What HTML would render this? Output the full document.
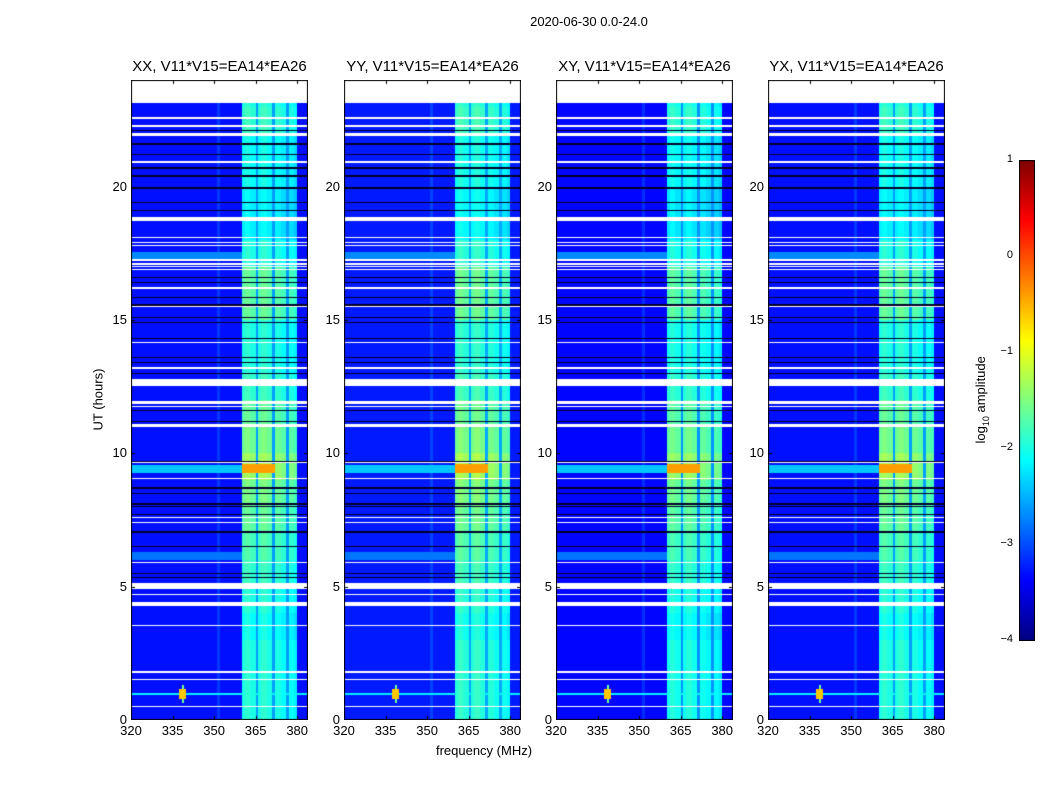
<!DOCTYPE html>
<html><head><meta charset="utf-8">
<style>
body{margin:0;background:#fff;font-family:"Liberation Sans",sans-serif;}
#wrap{position:relative;width:1050px;height:800px;overflow:hidden;background:#fff;}
.t{position:absolute;white-space:nowrap;color:#000;}
canvas{position:absolute;}
</style></head><body>
<div id="wrap">
<div class="t" style="left:489px;top:14px;width:200px;text-align:center;font-size:13px;">2020-06-30 0.0-24.0</div>
<div class="t" style="left:48px;top:392px;width:100px;text-align:center;font-size:13px;transform:rotate(-90deg);">UT (hours)</div>
<div class="t" style="left:384px;top:743px;width:200px;text-align:center;font-size:13px;">frequency (MHz)</div>
<div class="t" style="left:922px;top:391px;width:120px;text-align:center;font-size:13px;transform:rotate(-90deg);">log<sub style="font-size:9px">10</sub> amplitude</div>
<canvas id="cb" width="16" height="481" style="left:1019px;top:160px;"></canvas>
</div>
<script>
// ---- data ----
const panelTitles=["XX, V11*V15=EA14*EA26","YY, V11*V15=EA14*EA26","XY, V11*V15=EA14*EA26","YX, V11*V15=EA14*EA26"];
const panelLefts=[131,344,556,768];
const panelOffsets=[0,0.05,-0.05,0];
const xTicks=[320,335,350,365,380];
const yTicks=[0,5,10,15,20];
const cbTicks=[1,0,-1,-2,-3,-4];
// log10 amplitude per 1-MHz bin 320..383
const colBase=[-3.3,-3.3,-3.3,-3.3,-3.3,-3.3,-3.3,-3.3,-3.3,-3.3,-3.3,-3.3,-3.3,-3.3,-3.3,-3.3,-3.3,-3.3,-3.3,-3.3,
-3.3,-3.3,-3.3,-3.3,-3.3,-3.3,-3.3,-3.3,-3.3,-3.3,-3.3,-3.1,-3.3,-3.3,-3.3,-3.3,-3.3,-3.3,-3.3,-3.3,
-2.0,-1.9,-1.9,-2.0,-2.0,-2.6,-2.0,-1.9,-1.9,-2.0,-2.0,-2.6,-2.0,-2.0,-2.1,-2.1,-2.6,-2.1,-2.1,-2.2,-3.3,-3.3,-3.3,-3.3];
const bandStart=360, bandEnd=380;
// band gain per UT hour 0..23
const bandGain=[0,0,0,-0.1,0,0.1,0.2,0.3,0.4,0.6,0.4,0.3,0.1,0,0,0.3,0.3,0,-0.2,-0.2,-0.1,-0.1,0.1,0];
const dataTop=23.15;
const whiteRows=[[22.52,22.6],[22.22,22.3],[21.9,22.02],[20.88,20.95],[18.72,18.88],[18.07,18.13],[17.88,17.92],[17.76,17.8],[17.22,17.28],[17.08,17.12],[16.98,17.02],[16.88,16.92],[16.18,16.22],[15.48,15.52],[14.15,14.19],[13.18,13.22],[12.52,12.8],[11.85,11.97],[11.72,11.76],[11.0,11.1],[9.63,9.67],[9.05,9.09],[7.58,7.62],[7.38,7.42],[5.88,5.92],[4.92,5.12],[4.68,4.72],[4.28,4.42],[3.54,3.58],[1.78,1.82],[1.51,1.55],[0.48,0.52]];
const blackRows=[22.1,21.6,21.2,20.7,20.4,19.95,19.4,19.1,16.6,16.4,15.85,15.56,15.1,14.9,14.3,13.6,13.4,13.0,11.6,11.2,9.7,8.7,8.5,8.1,8.0,7.7,7.05,6.5,5.5,5.35];
// features: [f0,f1,h0,h1,value]
const features=[[320,360,9.25,9.55,-2.4],[320,360,6.0,6.3,-2.8],[320,360,17.3,17.55,-2.7],[360,372,9.25,9.6,-0.4],[320,384,0.93,1.03,-2.2],[337.5,340,0.8,1.15,-0.6],[338.3,339.2,0.65,1.3,-1.6]];
// ---- drawing ----
const wrap=document.getElementById('wrap');
const PW=177, PT=80, PH=640, PXM=2.77, HPX=26.667;
function xs(f){return (f-320)*PXM;}
function ys(h){return PH-h*HPX;}
function jet(v){let t=Math.max(0,Math.min(1,(v+4)/5));const c=x=>Math.round(255*Math.max(0,Math.min(1,1.5-Math.abs(x))));return [c(4*t-3),c(4*t-2),c(4*t-1)];}
function valueAt(f,h,off){
  for(const w of whiteRows){if(h>=w[0]&&h<w[1])return null;}
  for(const b of blackRows){if(Math.abs(h-b)<0.025)return 'k';}
  let bin=Math.max(0,Math.min(colBase.length-1,Math.floor(f-320)));
  let v=colBase[bin]+off;
  if(f>=bandStart&&f<bandEnd&&colBase[bin]>-2.4)v+=bandGain[Math.min(23,Math.floor(h))];
  for(const ft of features){if(f>=ft[0]&&f<ft[1]&&h>=ft[2]&&h<ft[3])v=Math.max(v,ft[4]);}
  return v;
}
function addText(txt,l,t,w,align,size,name){const d=document.createElement('div');d.className='t';d.textContent=txt;d.style.left=l+'px';d.style.top=t+'px';d.style.width=w+'px';d.style.textAlign=align;d.style.fontSize=size+'px';


wrap.appendChild(d);}
panelLefts.forEach((L,pi)=>{
  const cv=document.createElement('canvas');cv.width=PW;cv.height=PH;cv.style.left=L+'px';cv.style.top=PT+'px';
  
  
  wrap.appendChild(cv);
  const ctx=cv.getContext('2d');const img=ctx.createImageData(PW,PH);
  for(let py=0;py<PH;py++){const h=(PH-py-0.5)/HPX;
    for(let px=0;px<PW;px++){const f=320+(px+0.5)/PXM;let col=[255,255,255];
      if(h<dataTop){const v=valueAt(f,h,panelOffsets[pi]);if(v==='k')col=[0,0,40];else if(v!==null)col=jet(v);}
      const i=(py*PW+px)*4;img.data[i]=col[0];img.data[i+1]=col[1];img.data[i+2]=col[2];img.data[i+3]=255;}}
  ctx.putImageData(img,0,0);
  ctx.strokeStyle='#000';ctx.lineWidth=1;
  xTicks.forEach(t=>{const x=Math.round(xs(t))+0.5;ctx.beginPath();ctx.moveTo(x,PH);ctx.lineTo(x,PH-4);ctx.moveTo(x,0);ctx.lineTo(x,4);ctx.stroke();
    addText(String(t),L+xs(t)-20,PT+PH+3,40,'center',13,'x-tick-label');});
  yTicks.forEach(t=>{const y=Math.round(ys(t))+0.5;ctx.beginPath();ctx.moveTo(0,y);ctx.lineTo(4,y);ctx.moveTo(PW,y);ctx.lineTo(PW-4,y);ctx.stroke();
    addText(String(t),L-44,PT+ys(t)-8,40,'right',13,'y-tick-label');});
  ctx.strokeRect(0.5,0.5,PW-1,PH-1);
  addText(panelTitles[pi],L-30,PT-22,PW+60,'center',15,'panel-title');
});
// colorbar
const cb=document.getElementById('cb').getContext('2d');
for(let y=0;y<481;y++){const v=1-5*y/480;const c=jet(v);cb.fillStyle=`rgb(${c[0]},${c[1]},${c[2]})`;cb.fillRect(0,y,16,1);}
cb.strokeStyle='#000';cb.strokeRect(0.5,0.5,15,480);
cbTicks.forEach(t=>{const y=160+(1-t)*96;addText(t<0?'\u2212'+(-t):String(t),975,y-7,38,'right',11,'colorbar-tick-label');});
</script>
</body></html>
